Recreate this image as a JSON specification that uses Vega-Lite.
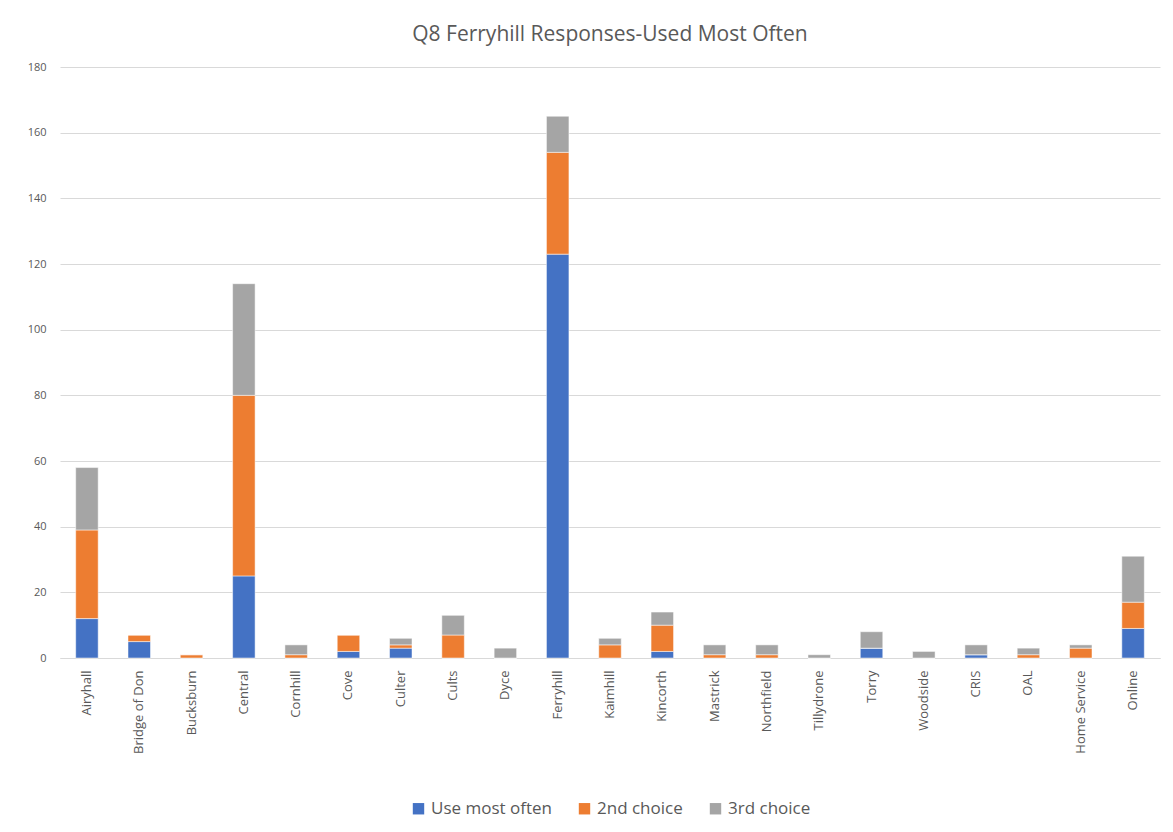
{
  "$schema": "https://vega.github.io/schema/vega-lite/v6.json",
  "width": 1100,
  "height": 591,
  "autosize": {"type": "none"},
  "padding": {"left": 60, "top": 67, "right": 13, "bottom": 174},
  "background": "white",
  "title": {
    "text": "Q8 Ferryhill Responses-Used  Most Often",
    "font": "Open Sans",
    "fontSize": 21,
    "fontWeight": "normal",
    "color": "#595959",
    "offset": 16
  },
  "data": {
    "values": [
      {"loc": "Airyhall", "series": "Use most often", "n": 12},
      {"loc": "Airyhall", "series": "2nd choice", "n": 27},
      {"loc": "Airyhall", "series": "3rd choice", "n": 19},
      {"loc": "Bridge of Don", "series": "Use most often", "n": 5},
      {"loc": "Bridge of Don", "series": "2nd choice", "n": 2},
      {"loc": "Bridge of Don", "series": "3rd choice", "n": 0},
      {"loc": "Bucksburn", "series": "Use most often", "n": 0},
      {"loc": "Bucksburn", "series": "2nd choice", "n": 1},
      {"loc": "Bucksburn", "series": "3rd choice", "n": 0},
      {"loc": "Central", "series": "Use most often", "n": 25},
      {"loc": "Central", "series": "2nd choice", "n": 55},
      {"loc": "Central", "series": "3rd choice", "n": 34},
      {"loc": "Cornhill", "series": "Use most often", "n": 0},
      {"loc": "Cornhill", "series": "2nd choice", "n": 1},
      {"loc": "Cornhill", "series": "3rd choice", "n": 3},
      {"loc": "Cove", "series": "Use most often", "n": 2},
      {"loc": "Cove", "series": "2nd choice", "n": 5},
      {"loc": "Cove", "series": "3rd choice", "n": 0},
      {"loc": "Culter", "series": "Use most often", "n": 3},
      {"loc": "Culter", "series": "2nd choice", "n": 1},
      {"loc": "Culter", "series": "3rd choice", "n": 2},
      {"loc": "Cults", "series": "Use most often", "n": 0},
      {"loc": "Cults", "series": "2nd choice", "n": 7},
      {"loc": "Cults", "series": "3rd choice", "n": 6},
      {"loc": "Dyce", "series": "Use most often", "n": 0},
      {"loc": "Dyce", "series": "2nd choice", "n": 0},
      {"loc": "Dyce", "series": "3rd choice", "n": 3},
      {"loc": "Ferryhill", "series": "Use most often", "n": 123},
      {"loc": "Ferryhill", "series": "2nd choice", "n": 31},
      {"loc": "Ferryhill", "series": "3rd choice", "n": 11},
      {"loc": "Kaimhill", "series": "Use most often", "n": 0},
      {"loc": "Kaimhill", "series": "2nd choice", "n": 4},
      {"loc": "Kaimhill", "series": "3rd choice", "n": 2},
      {"loc": "Kincorth", "series": "Use most often", "n": 2},
      {"loc": "Kincorth", "series": "2nd choice", "n": 8},
      {"loc": "Kincorth", "series": "3rd choice", "n": 4},
      {"loc": "Mastrick", "series": "Use most often", "n": 0},
      {"loc": "Mastrick", "series": "2nd choice", "n": 1},
      {"loc": "Mastrick", "series": "3rd choice", "n": 3},
      {"loc": "Northfield", "series": "Use most often", "n": 0},
      {"loc": "Northfield", "series": "2nd choice", "n": 1},
      {"loc": "Northfield", "series": "3rd choice", "n": 3},
      {"loc": "Tillydrone", "series": "Use most often", "n": 0},
      {"loc": "Tillydrone", "series": "2nd choice", "n": 0},
      {"loc": "Tillydrone", "series": "3rd choice", "n": 1},
      {"loc": "Torry", "series": "Use most often", "n": 3},
      {"loc": "Torry", "series": "2nd choice", "n": 0},
      {"loc": "Torry", "series": "3rd choice", "n": 5},
      {"loc": "Woodside", "series": "Use most often", "n": 0},
      {"loc": "Woodside", "series": "2nd choice", "n": 0},
      {"loc": "Woodside", "series": "3rd choice", "n": 2},
      {"loc": "CRIS", "series": "Use most often", "n": 1},
      {"loc": "CRIS", "series": "2nd choice", "n": 0},
      {"loc": "CRIS", "series": "3rd choice", "n": 3},
      {"loc": "OAL", "series": "Use most often", "n": 0},
      {"loc": "OAL", "series": "2nd choice", "n": 1},
      {"loc": "OAL", "series": "3rd choice", "n": 2},
      {"loc": "Home Service", "series": "Use most often", "n": 0},
      {"loc": "Home Service", "series": "2nd choice", "n": 3},
      {"loc": "Home Service", "series": "3rd choice", "n": 1},
      {"loc": "Online", "series": "Use most often", "n": 9},
      {"loc": "Online", "series": "2nd choice", "n": 8},
      {"loc": "Online", "series": "3rd choice", "n": 14}
    ]
  },
  "transform": [
    {"calculate": "indexof(['Use most often', '2nd choice', '3rd choice'], datum.series)", "as": "stackOrder"}
  ],
  "mark": {"type": "bar", "stroke": "white", "strokeWidth": 0.5},
  "encoding": {
    "x": {
      "field": "loc",
      "type": "nominal",
      "sort": null,
      "scale": {"paddingInner": 0.57, "paddingOuter": 0.3},
      "axis": {
        "title": null,
        "labelAngle": -90,
        "labelFont": "Open Sans",
        "labelFontSize": 13,
        "labelColor": "#595959",
        "labelPadding": 12,
        "ticks": false,
        "domainColor": "#d9d9d9"
      }
    },
    "y": {
      "field": "n",
      "type": "quantitative",
      "stack": "zero",
      "scale": {"domain": [0, 180], "nice": false},
      "axis": {
        "title": null,
        "values": [0, 20, 40, 60, 80, 100, 120, 140, 160, 180],
        "labelFont": "Open Sans",
        "labelFontSize": 11,
        "labelColor": "#595959",
        "labelPadding": 14,
        "ticks": false,
        "domain": false,
        "gridColor": "#d9d9d9",
        "gridWidth": 1.2
      }
    },
    "color": {
      "field": "series",
      "type": "nominal",
      "sort": ["Use most often", "2nd choice", "3rd choice"],
      "scale": {
        "domain": ["Use most often", "2nd choice", "3rd choice"],
        "range": ["#4472C4", "#ED7D31", "#A5A5A5"]
      },
      "legend": {
        "title": null,
        "orient": "bottom",
        "direction": "horizontal",
        "symbolType": "square",
        "symbolSize": 130,
        "symbolStrokeWidth": 0,
        "labelFont": "Open Sans",
        "labelFontSize": 17,
        "labelColor": "#595959",
        "columnPadding": 24,
        "offset": 46
      }
    },
    "order": {"field": "stackOrder", "type": "quantitative", "sort": "ascending"}
  },
  "config": {
    "view": {"stroke": null},
    "legend": {"layout": {"bottom": {"anchor": "middle"}}}
  }
}
